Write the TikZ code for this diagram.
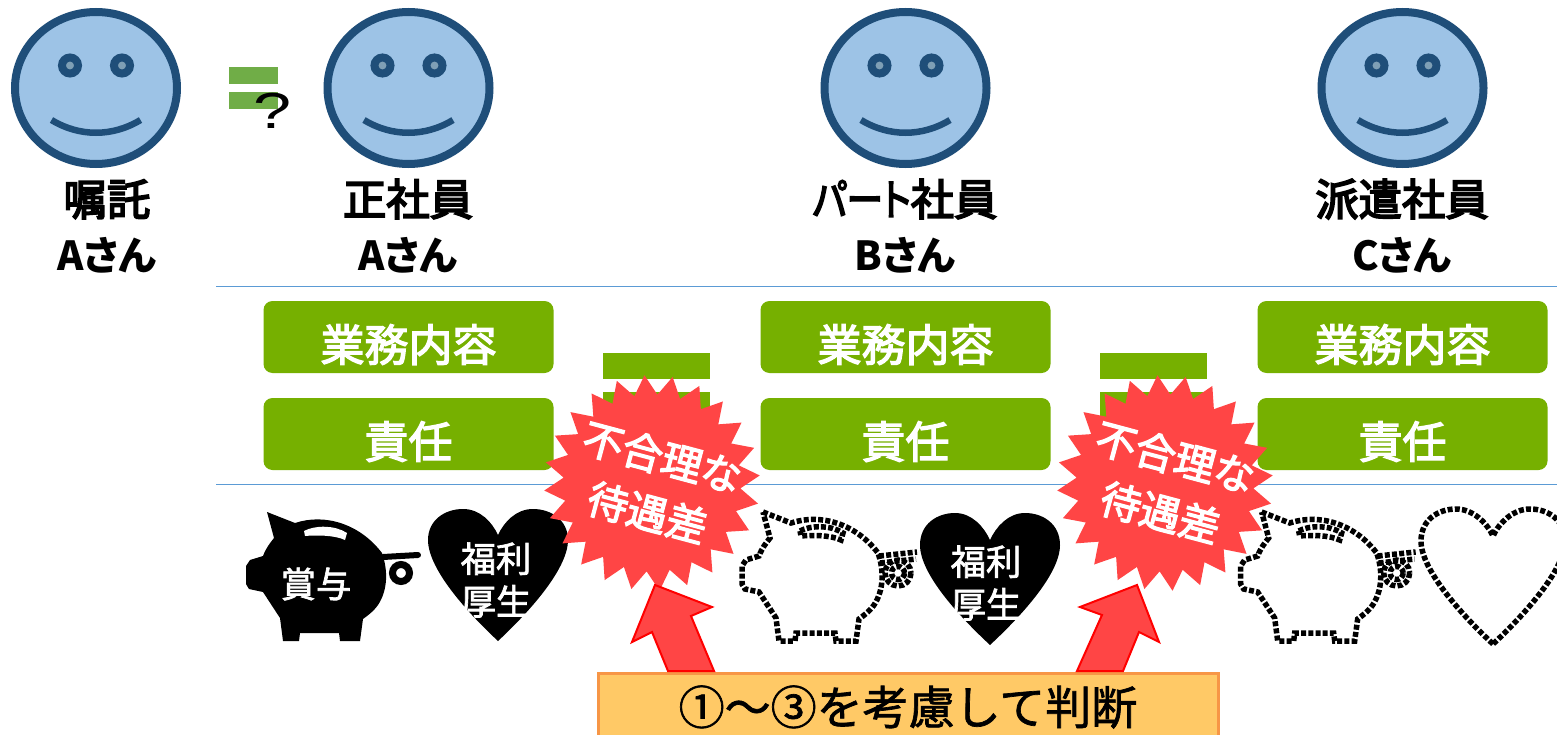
\documentclass[tikz,border=0pt]{standalone}
\usepackage{graphicx}
\usepackage{fontspec}
\usetikzlibrary{shapes.geometric}
\setmainfont{Noto Sans CJK JP}
\newfontfamily\qfont{Liberation Sans}
\newfontfamily\heavy[FakeBold=4,RawFeature={+palt}]{Noto Sans CJK JP}
\newfontfamily\lowfont[RawFeature={+palt}]{Noto Sans CJK JP}
\newfontfamily\medium[FakeBold=3]{Noto Sans CJK JP}
\newfontfamily\lightbold[FakeBold=2]{Noto Sans CJK JP}
\newfontfamily\notefont[FakeBold=1.5]{Noto Sans CJK JP}
\definecolor{facefill}{HTML}{9DC3E6}
\definecolor{faceline}{HTML}{1F4E79}
\definecolor{eyefill}{HTML}{7F9FB5}
\definecolor{boxgreen}{HTML}{76B000}
\definecolor{eqgreen}{HTML}{70AD47}
\definecolor{rulecol}{HTML}{5B9BD5}
\definecolor{starred}{HTML}{FF4545}
\definecolor{notefill}{HTML}{FFC966}
\definecolor{noteline}{HTML}{F79646}
\newcommand{\px}{0.75pt}
\newcommand{\lowsize}{\fontsize{30pt}{41pt}\selectfont\lowfont\bfseries}
\newcommand{\boxtext}[1]{\raisebox{-18.2pt}[0pt][0pt]{#1}}
\tikzset{
  x=0.75pt,y=-0.75pt,
  every node/.style={inner sep=0pt,outer sep=0pt},
  facestyle/.style={ellipse,draw=faceline,fill=facefill,line width=8*\px,minimum width=162*\px,minimum height=152*\px},
  eyestyle/.style={circle,draw=faceline,fill=eyefill,line width=8*\px,minimum size=16*\px},
  mouthstyle/.style={draw=faceline,line width=6.5*\px},
  labelstyle/.style={font=\fontsize{32.5pt}{41pt}\selectfont\heavy,align=center,text=black},
  greenbox/.style={rectangle,rounded corners=9*\px,fill=boxgreen,text=white,minimum width=290*\px,minimum height=72*\px,font=\fontsize{33pt}{40pt}\selectfont\medium},
  eqbar/.style={rectangle,fill=boxgreen,minimum width=107*\px,minimum height=26*\px},
  smalleq/.style={rectangle,fill=eqgreen,minimum width=49*\px,minimum height=17*\px},
  burst/.style={star,star points=24,star point ratio=1.22,shape border rotate=4,fill=starred,minimum size=216*\px},
  bursttext/.style={rotate=-15,text=white,align=center,font=\fontsize{30.5pt}{43pt}\selectfont\medium},
  rulestyle/.style={draw=rulecol,line width=1*\px},
  upwardarrow/.style={draw=red,fill=starred,line width=2*\px,line join=miter},
  blacktext/.style={text=white,align=center,font=\fontsize{26.5pt}{32pt}\selectfont\lightbold},
  dotline/.style={draw=black,line width=5.5*\px,dash pattern=on 5*\px off 2.2*\px},
}
\newcommand{\smiley}[2]{%
  \node[facestyle] (face#1) at (#2,88) {};
  \node[eyestyle] (eyeL#1) at ([xshift=-26*\px]face#1.center |- 0,65.5) {};
  \node[eyestyle] (eyeR#1) at ([xshift=26*\px]face#1.center |- 0,65.5) {};
  \draw[mouthstyle] ([xshift=-44.5*\px]face#1.center |- 0,120) .. controls +(28,17) and +(-28,17) .. ([xshift=44.5*\px]face#1.center |- 0,120);
}
\newcommand{\pigpath}{
  (267,512) -- (295,523) .. controls (325,513) and (360,524) .. (382,553)
  .. controls (388,570) and (388,590) .. (378,605) .. controls (373,612) and (367,616) .. (363,619)
  -- (360,641) -- (340,641) -- (339,633) -- (300,633) -- (299,641) -- (283,641) -- (280,618)
  -- (263,592) -- (249,589) -- (246,584) -- (246,566) -- (250,560) -- (263,556)
  .. controls (266,548) and (270,543) .. (274,538) -- cycle}
\newcommand{\slotpath}{(304,531) .. controls (315,525) and (335,525) .. (347,533) -- (345,540) .. controls (335,535) and (315,535) .. (305,536) -- cycle}
\newcommand{\tailblob}{
  \draw[dotline] (383,556) -- (421,552);
  \draw[dotline] (384,563) -- (420,559);
  \draw[dotline] (402,573) circle[radius=6.5];
  \draw[dotline] (402,573) circle[radius=13];
}
\newcommand{\heartpath}[6]{% left x, right x, top y, notch y, bottom y, centre x
  (#6,#5) .. controls (#6-28,#5-26) and (#1,#4+35) .. (#1,#4+5)
  .. controls (#1,#3+11) and (#1+17,#3) .. (#1+35,#3)
  .. controls (#1+52,#3) and (#6-6,#4-13) .. (#6,#4)
  .. controls (#6+6,#4-13) and (#2-52,#3) .. (#2-35,#3)
  .. controls (#2-17,#3) and (#2,#3+11) .. (#2,#4+5)
  .. controls (#2,#4+35) and (#6+28,#5-26) .. (#6,#5) -- cycle}
\begin{document}
\begin{tikzpicture}
\useasboundingbox[fill=white] (0,0) rectangle (1557,735);
% faces
\smiley{a}{96}
\smiley{b}{408.5}
\smiley{c}{905.5}
\smiley{d}{1402.5}
% small equals with question mark
\node[smalleq] (seq1) at (253.5,75.5) {};
\node[smalleq] (seq2) at (253.5,100.5) {};
\node[font=\fontsize{38pt}{38pt}\selectfont\qfont,text=black,xscale=1.35] (qm) at (273,111) {?};
% labels
\node[labelstyle] (la) at (107,225) {\strut 嘱託\\\lowsize Aさん};
\node[labelstyle] (lb) at (408,225) {\strut 正社員\\\lowsize Aさん};
\node[labelstyle] (lc) at (905,225) {\strut \scalebox{0.84}[1]{パート}社員\\\lowsize Bさん};
\node[labelstyle] (ld) at (1402,225) {\strut 派遣社員\\\lowsize Cさん};
% rules
\coordinate (r1a) at (216,286); \coordinate (r1b) at (1557,286);
\coordinate (r2a) at (216,484); \coordinate (r2b) at (1557,484);
\draw[rulestyle] (r1a) -- (r1b);
\draw[rulestyle] (r2a) -- (r2b);
% boxes
\foreach \n/\xx in {b/408.5,c/905.5,d/1402.5}{
  \node[greenbox] (job\n) at (\xx,337) {\boxtext{業務内容}};
  \node[greenbox] (res\n) at (\xx,434) {\boxtext{責任}};
}
% equal bars
\node[eqbar] (e1a) at (656,366) {};
\node[eqbar] (e1b) at (656,405) {};
\node[eqbar] (e2a) at (1153,366) {};
\node[eqbar] (e2b) at (1153,405) {};
% pig 1
\fill[black] \pigpath;
\fill[white] \slotpath;
\draw[black,line width=6*\px,line cap=round] (383,557) -- (418,555);
\draw[black,line width=7*\px] (401,573) circle[radius=8.5];
\node[blacktext] (bonus) at (316,584) {賞与};
% heart 1
\fill[black] \heartpath{428}{568}{509}{535}{641}{498};
\node[blacktext] (wel1) at (496,580) {福利\\厚生};
% pig 2
\begin{scope}[xshift=372pt]
\draw[dotline,fill=white] \pigpath;
\draw[dotline] \slotpath;
\tailblob
\end{scope}
\fill[black] \heartpath{920}{1060}{513}{540}{645}{990};
\node[blacktext] (wel2) at (986,583) {福利\\厚生};
% pig 3
\begin{scope}[xshift=746pt]
\draw[dotline,fill=white] \pigpath;
\draw[dotline] \slotpath;
\tailblob
\end{scope}
\draw[dotline] \heartpath{1421}{1565}{509}{536}{644}{1493};
% stars
\node[burst] (s1) at (652,483) {};
\node[bursttext] (t1) at (655,485) {不合理な\\待遇差};
\node[burst] (s2) at (1165,483) {};
\node[bursttext] (t2) at (1168,485) {不合理な\\待遇差};
% note
\node[rectangle,draw=noteline,fill=notefill,line width=3*\px,minimum width=620*\px,minimum height=80*\px,anchor=north west] (note) at (598,673) {};
\node[font=\fontsize{34.5pt}{40pt}\selectfont\notefont,text=black] (notet) at (908,707) {①～③を考慮して判断};
% arrows
\draw[upwardarrow] (668,671) -- (652,632) -- (632,642) -- (655,585) -- (712,607) -- (691,616) -- (714,671) -- cycle;
\draw[upwardarrow] (1123,671) -- (1139,632) -- (1159,642) -- (1137,585) -- (1080,607) -- (1102,615) -- (1077,671) -- cycle;
\end{tikzpicture}
\end{document}
